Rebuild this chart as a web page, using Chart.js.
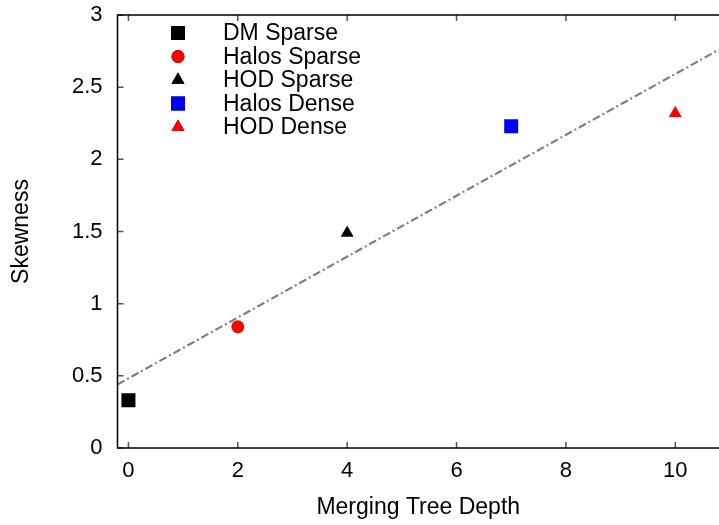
<!DOCTYPE html>
<html>
<head>
<meta charset="UTF-8">
<title>Skewness vs Merging Tree Depth</title>
<style>
  html, body { margin: 0; padding: 0; background: #fff; overflow: hidden; }
  canvas { display: block; }
</style>
</head>
<body>
<canvas id="chart" width="719" height="525"></canvas>
<script src="https://cdn.jsdelivr.net/npm/chart.js"></script>
<script>
// series: [depth, skewness]
const seriesNames = ['DM Sparse', 'Halos Sparse', 'HOD Sparse', 'Halos Dense', 'HOD Dense'];
const depths = [0, 2, 4, 7, 10];
const skewness = [0.33, 0.84, 1.49, 2.23, 2.32];
const colors = ['#000000', '#ff0000', '#000000', '#0000ff', '#ff0000'];
const shapes = ['rect', 'circle', 'triangle', 'rect', 'triangle'];
const radii = [9.9, 6.5, 7.5, 9.9, 7.5];

// fitted line endpoints
const fitX = [-0.2, 10.8];
const fitY = [0.44, 2.76];

const xTicks = [0, 2, 4, 6, 8, 10];
const yTicks = [0, 0.5, 1, 1.5, 2, 2.5, 3];

const FONT = 'Liberation Sans, Arial, sans-serif';

const datasets = seriesNames.map((name, i) => ({
  label: name,
  data: [{ x: depths[i], y: skewness[i] }],
  pointStyle: shapes[i],
  pointRadius: radii[i],
  pointHoverRadius: radii[i],
  backgroundColor: colors[i],
  borderColor: colors[i],
  borderWidth: 0,
  showLine: false
}));

datasets.unshift({
  label: 'fit',
  data: fitX.map((x, i) => ({ x: x, y: fitY[i] })),
  showLine: true,
  borderColor: '#808080',
  borderWidth: 2.2,
  borderDash: [8, 3, 2, 3],
  pointRadius: 0,
  fill: false
});

// gnuplot-like frame, inward ticks and legend
const framePlugin = {
  id: 'frame',
  afterDraw(chart) {
    const ctx = chart.ctx;
    const a = chart.chartArea;
    const xs = chart.scales.x, ys = chart.scales.y;
    ctx.save();
    ctx.strokeStyle = '#555555';
    ctx.lineWidth = 1.5;
    ctx.beginPath();
    xTicks.forEach(t => {
      const px = xs.getPixelForValue(t);
      ctx.moveTo(px, a.bottom); ctx.lineTo(px, a.bottom - 6);
      ctx.moveTo(px, a.top); ctx.lineTo(px, a.top + 6);
    });
    yTicks.forEach(t => {
      const py = ys.getPixelForValue(t);
      ctx.moveTo(a.left, py); ctx.lineTo(a.left + 6, py);
    });
    ctx.stroke();

    ctx.strokeStyle = '#000000';
    ctx.lineWidth = 1.5;
    ctx.strokeRect(a.left, a.top, a.right - a.left + 5, a.bottom - a.top);

    // legend
    ctx.font = '23px ' + FONT;
    ctx.textBaseline = 'middle';
    ctx.textAlign = 'left';
    seriesNames.forEach((name, i) => {
      const y = 33 + i * 23.5;
      Chart.helpers.drawPoint(ctx, {
        pointStyle: shapes[i], radius: radii[i], rotation: 0, borderWidth: 0
      }, 178, y);
      ctx.fillStyle = colors[i];
      ctx.fill();
      ctx.fillStyle = '#000000';
      ctx.fillText(name, 223, y + 1);
    });
    ctx.restore();
  }
};

new Chart(document.getElementById('chart'), {
  type: 'scatter',
  data: { datasets: datasets },
  options: {
    responsive: false,
    animation: false,
    layout: { autoPadding: false, padding: { top: 15, right: 0, left: 0, bottom: 0 } },
    plugins: { legend: { display: false }, tooltip: { enabled: false } },
    scales: {
      x: {
        type: 'linear',
        min: -0.2,
        max: 10.8,
        afterBuildTicks: s => { s.ticks = xTicks.map(v => ({ value: v })); },
        afterFit: s => { s.height = 77; s.paddingLeft = 0; s.paddingRight = 0; },
        grid: { display: false, drawTicks: false },
        border: { display: false },
        ticks: { color: '#000', font: { family: FONT, size: 22 }, padding: 10,
                 callback: v => String(v) },
        title: { display: true, text: 'Merging Tree Depth', color: '#000',
                 font: { family: FONT, size: 23 }, padding: { top: 10 } }
      },
      y: {
        min: 0,
        max: 3,
        afterBuildTicks: s => { s.ticks = yTicks.map(v => ({ value: v })); },
        afterFit: s => { s.width = 117.5; s.paddingTop = 0; s.paddingBottom = 0; },
        grid: { display: false, drawTicks: false },
        border: { display: false },
        ticks: { color: '#000', font: { family: FONT, size: 22 }, padding: 15,
                 callback: v => String(v) },
        title: { display: true, text: 'Skewness', color: '#000',
                 font: { family: FONT, size: 23 }, padding: { top: 8, bottom: 4 } }
      }
    }
  },
  plugins: [framePlugin]
});
</script>
</body>
</html>
